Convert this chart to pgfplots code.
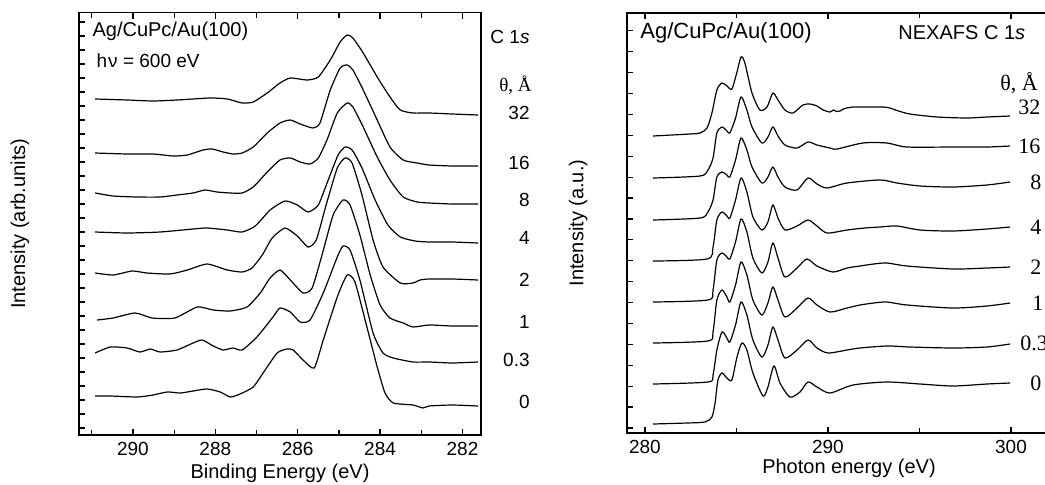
\documentclass[border=0pt]{standalone}
\usepackage{pgfplots}
\pgfplotsset{compat=1.18}
\usepackage{fontspec}
\setmainfont{Liberation Sans}
\newfontfamily\tnr{Liberation Serif}
\begin{document}
\begin{tikzpicture}
\useasboundingbox (0,0) rectangle (522.5pt,242pt);
\pgfplotsset{
  every axis/.append style={
    scale only axis, clip=false,
    axis line style={line width=0.8pt},
    tick style={line width=0.6pt, black},
    tick align=inside, major tick length=3pt, minor tick length=2.5pt,
    /pgf/number format/assume math mode=true,
    ticklabel style={font=\fontsize{9.5}{11}\selectfont},
    label style={font=\fontsize{10.8}{13}\selectfont},
    xtick pos=both, ytick pos=left,
    cycle list={{black,solid}},
  },
  every axis plot/.append style={black, solid, line width=0.6pt, no marks, smooth, tension=0.35},
}
% ---------------- left panel: XPS C 1s ----------------
\begin{axis}[name=L, at={(39.5pt,24.5pt)}, anchor=south west,
  width=201pt, height=211.25pt,
  x dir=reverse, xmin=281.55, xmax=291.31, ymin=0, ymax=422.5,
  xtick={282,284,...,290}, minor xtick={283,285,...,291},
  ytick={7,21,...,413}, yticklabels={},
  xlabel={Binding Energy (eV)}, ylabel={Intensity (arb.units)},
  every axis x label/.style={at={(axis description cs:0.5,0)}, anchor=center, yshift=-19pt},
  every axis y label/.style={at={(axis description cs:-0.1468,0.5)}, rotate=90, anchor=center},
]
% 32
\addplot coordinates {(290.92,336)(290.14,335)(289.51,334)(288.93,335)(288.13,337)(287.71,336)(287.35,332)(287.08,333)(286.74,342)(286.43,352)(286.18,357)(285.77,355)(285.50,358)(285.21,375)(284.97,393)(284.80,400)(284.66,397)(284.41,382)(284.07,358)(283.76,338)(283.51,325)(283.20,322)(282.81,322)(282.25,321)(281.62,320)};
% 16
\addplot coordinates {(290.92,282)(290.14,281)(289.51,281)(289.02,279)(288.68,280)(288.30,285)(288.08,286)(287.81,283)(287.57,281)(287.35,282)(287.08,288)(286.74,302)(286.43,312)(286.18,315)(285.94,311)(285.63,307)(285.46,312)(285.21,345)(284.97,367)(284.80,370)(284.66,365)(284.41,345)(284.07,315)(283.76,288)(283.44,275)(283.10,272)(282.81,270)(282.25,269)(281.62,269)};
% 8
\addplot coordinates {(290.92,242)(290.48,239)(289.90,238)(289.34,238)(288.93,240)(288.54,242)(288.25,245)(287.96,243)(287.64,242)(287.35,242)(287.08,248)(286.74,263)(286.43,275)(286.18,277)(285.94,273)(285.70,271)(285.50,277)(285.29,295)(285.04,322)(284.80,332)(284.66,328)(284.41,308)(284.07,278)(283.76,255)(283.44,238)(283.10,233)(282.81,232)(282.25,231)(281.62,231)};
% 4
\addplot coordinates {(290.92,203)(290.14,202)(289.34,203)(288.54,206)(288.20,207)(287.71,205)(287.35,203)(287.03,209)(286.67,225)(286.31,234)(286.01,230)(285.75,223)(285.50,230)(285.26,255)(285.02,280)(284.85,288)(284.68,285)(284.44,267)(284.12,235)(283.81,210)(283.51,198)(283.15,194)(282.81,193)(282.25,193)(281.62,192)};
% 2
\addplot coordinates {(290.92,162)(290.48,160)(290.02,164)(289.66,162)(289.10,161)(288.68,165)(288.20,171)(287.71,165)(287.35,163)(287.11,167)(286.86,180)(286.62,197)(286.31,207)(286.01,199)(285.75,188)(285.55,195)(285.31,230)(285.04,267)(284.85,277)(284.68,272)(284.44,240)(284.17,195)(283.93,168)(283.51,152)(283.20,152)(283.03,155)(282.81,156)(282.25,156)(281.62,155)};
% 1
\addplot coordinates {(290.87,115)(290.48,117)(289.95,122)(289.53,117)(288.98,117)(288.44,128)(288.05,125)(287.64,124)(287.23,128)(286.91,142)(286.67,157)(286.43,165)(286.18,155)(285.87,142)(285.65,147)(285.41,180)(285.14,220)(284.90,235)(284.73,230)(284.49,200)(284.24,160)(284.00,130)(283.76,117)(283.44,112)(283.20,108)(282.81,110)(282.25,109)(281.62,109)};
% 0.3
\addplot coordinates {(290.92,82)(290.55,88)(290.14,87)(289.83,83)(289.58,86)(289.34,83)(288.93,85)(288.54,92)(288.32,95)(288.05,89)(287.81,85)(287.57,87)(287.35,85)(286.99,98)(286.60,118)(286.43,127)(286.18,123)(285.94,113)(285.70,115)(285.38,142)(285.04,178)(284.90,189)(284.73,185)(284.49,155)(284.17,102)(283.93,82)(283.68,77)(283.20,73)(282.81,73)(282.25,72)(281.62,73)};
% 0
\addplot coordinates {(290.92,39)(290.55,39)(289.90,38)(289.51,40)(289.17,43)(288.85,42)(288.54,44)(288.20,46)(287.88,43)(287.64,38)(287.40,41)(287.08,48)(286.84,62)(286.50,82)(286.26,86)(286.11,85)(285.87,75)(285.60,67)(285.38,95)(285.04,138)(284.80,160)(284.61,153)(284.32,108)(284.07,68)(283.88,42)(283.68,32)(283.20,30)(282.96,27)(282.81,29)(282.25,30)(281.62,29)};
\node[anchor=west, inner sep=0pt, font=\fontsize{10}{12}\selectfont] at (axis cs:290.99,404) {Ag/CuPc/Au(100)};
\node[anchor=west, inner sep=0pt, font=\fontsize{9.5}{12}\selectfont] at (axis cs:290.89,374) {h\kern0.5pt ν = 600 eV};
\node[anchor=west, inner sep=0pt, font=\fontsize{9.5}{12}\selectfont] at (axis cs:281.33,398) {C 1\textit{s}};
\node[anchor=east, inner sep=0pt, font=\tnr\fontsize{9.5}{12}\selectfont] at (axis cs:280.31,350) {θ, Å};
\begin{scope}[every node/.style={anchor=east, inner sep=0pt, font=\fontsize{9.5}{12}\selectfont}]
\node at (axis cs:280.36,322) {32};
\node at (axis cs:280.36,272) {16};
\node at (axis cs:280.36,235) {8};
\node at (axis cs:280.36,197) {4};
\node at (axis cs:280.36,155) {2};
\node at (axis cs:280.36,113) {1};
\node at (axis cs:280.36,75) {0.3};
\node at (axis cs:280.36,33) {0};
\end{scope}
\end{axis}
% ---------------- right panel: NEXAFS ----------------
\begin{axis}[name=R, at={(313.5pt,25.5pt)}, anchor=south west,
  width=222pt, height=210pt,
  xmin=279.02, xmax=303.28, ymin=0, ymax=420,
  xtick={280,290,300}, minor xtick={285,295},
  ytick={5.1,26,...,419}, yticklabels={},
  xlabel={Photon energy (eV)}, ylabel={Intensity (a.u.)},
  every axis x label/.style={at={(axis description cs:0.5,0)}, anchor=center, yshift=-17.5pt},
  every axis y label/.style={at={(axis description cs:-0.110,0.5)}, rotate=90, anchor=center},
  every axis plot/.append style={tension=0.45},
]
% 32
\addplot coordinates {(280.44,297)(282.46,299)(283.01,300)(283.39,305)(283.66,320)(283.93,343)(284.21,350)(284.48,347)(284.75,344)(285.03,361)(285.25,376)(285.46,370)(285.85,340)(286.28,323)(286.67,326)(286.99,340)(287.27,333)(287.65,323)(288.09,320)(288.63,328)(289.02,329)(289.40,327)(289.74,323)(290.11,321)(290.30,323)(290.47,321.5)(290.66,322)(290.84,324)(291.02,325)(291.38,326)(291.75,326)(292.48,326)(293.02,326)(293.39,325)(293.77,322.5)(294.48,319)(295.96,316)(297.60,315)(298.69,316)(299.95,317)};
% 16
\addplot coordinates {(280.44,255)(283.01,257)(283.44,263)(283.72,275)(283.93,300)(284.21,306)(284.48,302)(284.64,300)(284.95,315)(285.25,336)(285.57,323)(285.85,306)(286.39,290)(286.72,296)(286.99,306)(287.27,297)(287.65,288)(288.31,285)(288.91,291)(289.40,288)(290.11,285)(290.49,284)(291.91,290)(293.22,290)(294.32,286)(296.83,286)(298.69,286)(299.95,287)};
% 8
\addplot coordinates {(280.44,213)(283.01,215)(283.44,221)(283.72,233)(283.93,256)(284.21,261)(284.48,258)(284.64,256)(284.95,273)(285.25,295)(285.57,283)(285.85,266)(286.39,250)(286.72,256)(286.99,266)(287.27,256)(287.65,246)(288.31,243)(288.91,255)(289.40,249)(289.95,245)(291.04,250)(292.84,253)(293.77,250)(295.03,247)(296.83,246)(298.69,248)(299.95,251)};
% 4
\addplot coordinates {(280.44,172)(283.39,174)(283.72,186)(283.93,213)(284.21,221)(284.48,217)(284.64,215)(284.95,233)(285.25,255)(285.57,241)(285.90,216)(286.39,203)(286.72,211)(286.99,228)(287.27,215)(287.65,203)(288.31,207)(288.91,213)(289.40,207)(289.95,200)(291.04,203)(292.00,205)(292.84,206)(293.77,207)(295.03,203)(296.83,202)(298.69,204)(299.95,206)};
% 2
\addplot coordinates {(280.44,131)(283.44,133)(283.72,143)(283.93,173)(284.21,180)(284.48,176)(284.64,174)(284.95,191)(285.25,214)(285.57,201)(285.90,175)(286.39,160)(286.72,171)(286.99,190)(287.27,175)(287.65,156)(288.31,165)(288.85,174)(289.40,167)(290.27,161)(291.04,165)(291.75,167)(292.50,169)(293.22,170)(294.32,167)(296.83,164)(298.69,165)(299.95,166)};
% 1
\addplot coordinates {(280.44,90)(283.44,92)(283.72,101)(283.93,133)(284.21,143)(284.48,136)(284.64,131)(284.95,148)(285.25,171)(285.57,158)(285.90,133)(286.39,118)(286.72,130)(286.99,146)(287.27,133)(287.65,116)(288.31,125)(288.91,135)(289.40,128)(290.11,121)(291.04,125)(291.75,128)(292.50,130)(293.22,131)(294.32,128)(296.83,125)(298.69,127)(299.95,130)};
% 0.3
\addplot coordinates {(280.44,49)(283.44,51)(283.72,58)(283.93,83)(284.21,101)(284.48,95)(284.64,91)(284.95,108)(285.25,131)(285.57,118)(285.90,93)(286.39,76)(286.72,88)(286.99,106)(287.27,93)(287.65,75)(288.31,83)(288.91,93)(289.40,85)(290.00,80)(291.04,83)(291.75,85)(293.22,87)(294.48,86)(296.83,85)(298.69,86)(299.95,89)};
% 0
\addplot coordinates {(280.44,9)(282.30,10)(283.28,11)(283.66,16)(283.83,30)(283.99,53)(284.21,60)(284.48,55)(284.75,53)(285.03,76)(285.30,90)(285.57,83)(285.90,60)(286.45,37)(286.72,46)(287.05,67)(287.38,50)(287.92,36)(288.47,41)(288.91,51)(289.40,46)(290.11,40)(291.37,48)(293.22,51)(295.03,49)(296.83,47)(298.69,49)(299.95,50)};
\node[anchor=west, inner sep=0pt, font=\fontsize{11}{13}\selectfont] at (axis cs:279.73,400) {Ag/CuPc/Au(100)};
\node[anchor=west, inner sep=0pt, font=\fontsize{10}{12}\selectfont] at (axis cs:293.83,400) {NEXAFS C 1\textit{s}};
\begin{scope}[every node/.style={anchor=west, inner sep=0pt, font=\tnr\fontsize{11}{13}\selectfont}]
\node at (axis cs:299.40,350) {θ, Å};
\node at (axis cs:300.38,326) {32};
\node at (axis cs:300.38,287) {16};
\node at (axis cs:301.04,251) {8};
\node at (axis cs:301.04,206) {4};
\node at (axis cs:301.04,166) {2};
\node at (axis cs:301.15,130) {1};
\node at (axis cs:300.49,90) {0.3};
\node at (axis cs:301.04,50) {0};
\end{scope}
\end{axis}
\end{tikzpicture}
\end{document}
